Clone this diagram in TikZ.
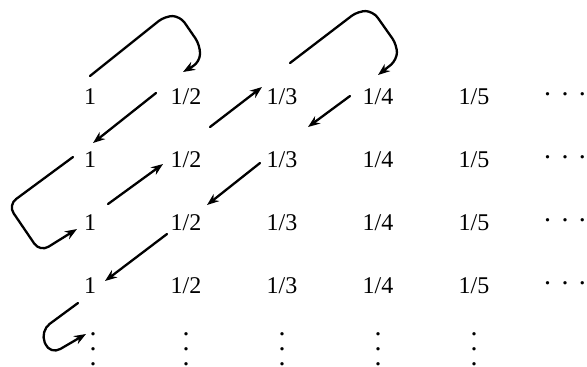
\documentclass[tikz,border=0pt]{standalone}
\usepackage{fontspec}
\setmainfont{Liberation Serif}
\usetikzlibrary{positioning,arrows.meta}
\tikzset{
  diag/.style={line width=1.15pt, line cap=round, -{Stealth[length=6pt,width=4.5pt]}},
  turn/.style={diag, rounded corners=4pt},
  entry/.style={font=\fontsize{12}{13}\selectfont, inner sep=1pt}
}
\newcommand{\hdotz}{\raisebox{3.4pt}{\fontsize{14}{14}\selectfont.\hspace{5.2pt}.\hspace{5.2pt}.}}
\newcommand{\vdotz}{\vbox{\fontsize{14}{14}\selectfont\baselineskip=7.5pt\lineskiplimit=-10pt\hbox{.}\hbox{.}\hbox{.}}}

\begin{document}
\begin{tikzpicture}[x=0.5pt, y=-0.5pt, node distance=31.5pt and 48pt, on grid, every node/.style={entry}]
    \useasboundingbox (0,0) rectangle (587,366);
    % first row
    \node (a1) at (90,97) {1};
    \node[right=of a1] (a2) {1/2};
    \node[right=of a2] (a3) {1/3};
    \node[right=of a3] (a4) {1/4};
    \node[right=of a4] (a5) {1/5};
    \node[right=of a5, xshift=-2.5pt] (a6) {\hdotz};
    % second row
    \node[below=of a1] (b1) {1};
    \node[right=of b1] (b2) {1/2};
    \node[right=of b2] (b3) {1/3};
    \node[right=of b3] (b4) {1/4};
    \node[right=of b4] (b5) {1/5};
    \node[right=of b5, xshift=-2.5pt] (b6) {\hdotz};
    % third row
    \node[below=of b1] (c1) {1};
    \node[right=of c1] (c2) {1/2};
    \node[right=of c2] (c3) {1/3};
    \node[right=of c3] (c4) {1/4};
    \node[right=of c4] (c5) {1/5};
    \node[right=of c5, xshift=-2.5pt] (c6) {\hdotz};
    % fourth row
    \node[below=of c1] (d1) {1};
    \node[right=of d1] (d2) {1/2};
    \node[right=of d2] (d3) {1/3};
    \node[right=of d3] (d4) {1/4};
    \node[right=of d4] (d5) {1/5};
    \node[right=of d5, xshift=-2.5pt] (d6) {\hdotz};
    % columns go on
    \node[below=of d1, xshift=1.5pt] (e1) {\vdotz};
    \node[below=of d2] (e2) {\vdotz};
    \node[below=of d3] (e3) {\vdotz};
    \node[below=of d4] (e4) {\vdotz};
    \node[below=of d5] (e5) {\vdotz};

    \draw[turn] ([shift={(0,-21)}]a1.center) -- ++(75,-60) -- ++(15,0) -- ++(20,29)
      -- ++(0,17) -- ([shift={(-3,-25)}]a2.center);
    \draw[diag] ([shift={(-30,-4)}]a2.center) -- ([shift={(3,-17)}]b1.center);
    \draw[turn, rounded corners=5pt] ([shift={(-17,-3)}]b1.center) -- ++(-65,48) -- ++(32,47)
      -- ([shift={(-13,6)}]c1.center);
    \draw[diag] ([shift={(18,-19)}]c1.center) -- ([shift={(-23,4)}]b2.center);
    \draw[diag] ([shift={(24,-33)}]b2.center) -- ([shift={(-20,-10)}]a3.center);
    \draw[turn] ([shift={(8,-34)}]a3.center) -- ++(68,-52) -- ++(15,0) -- ++(24,34)
      -- ++(0,15) -- ([shift={(0,-22)}]a4.center);
    \draw[diag] ([shift={(-28,-1)}]a4.center) -- ([shift={(26,-33)}]b3.center);
    \draw[diag] ([shift={(-22,3)}]b3.center) -- ([shift={(21,-18)}]c2.center);
    \draw[diag] ([shift={(-19,11)}]c2.center) -- ([shift={(15,-5)}]d1.center);
    \draw[turn, rounded corners=6pt] ([shift={(-12,17)}]d1.center) -- ++(-38,28) -- ++(10,24)
      -- ([shift={(-7,-15)}]e1.center);
\end{tikzpicture}
\end{document}
